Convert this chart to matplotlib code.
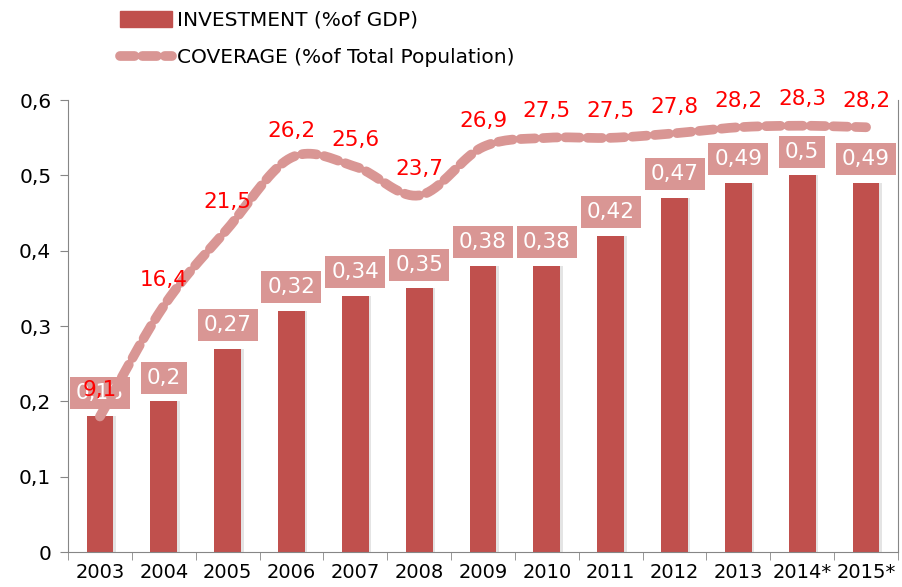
import matplotlib
matplotlib.use("Agg")
import matplotlib.pyplot as plt
import numpy as np
from matplotlib.lines import Line2D
from matplotlib.patches import Patch

years = ["2003", "2004", "2005", "2006", "2007", "2008", "2009", "2010",
         "2011", "2012", "2013", "2014*", "2015*"]
investment = [0.18, 0.2, 0.27, 0.32, 0.34, 0.35, 0.38, 0.38, 0.42, 0.47, 0.49, 0.5, 0.49]
coverage = [9.1, 16.4, 21.5, 26.2, 25.6, 23.7, 26.9, 27.5, 27.5, 27.8, 28.2, 28.3, 28.2]

bar_col = "#C0504D"
line_col = "#D99694"
axis_col = "#868686"
fam = ["DejaVu Sans"]


def smooth(xs, ys, n=20):
    # catmull-rom like excel smoothed line
    px = np.concatenate([[2 * xs[0] - xs[1]], xs, [2 * xs[-1] - xs[-2]]])
    py = np.concatenate([[2 * ys[0] - ys[1]], ys, [2 * ys[-1] - ys[-2]]])
    ox, oy = [], []
    for i in range(1, len(px) - 2):
        t = np.linspace(0, 1, n, endpoint=False)
        for arr, out in ((px, ox), (py, oy)):
            p0, p1, p2, p3 = arr[i - 1], arr[i], arr[i + 1], arr[i + 2]
            out.extend(0.5 * (2 * p1 + (-p0 + p2) * t + (2 * p0 - 5 * p1 + 4 * p2 - p3) * t ** 2
                              + (-p0 + 3 * p1 - 3 * p2 + p3) * t ** 3))
    ox.append(xs[-1]); oy.append(ys[-1])
    return np.array(ox), np.array(oy)


fig = plt.figure(figsize=(9.03, 5.87), dpi=100)
ax = fig.add_axes([68 / 903, 1 - 552 / 587, 830 / 903, 452 / 587])
x = np.arange(len(years))

ax.bar(x + 0.04, investment, width=0.42, color="#888888", alpha=0.22, zorder=1)
ax.bar(x, investment, width=0.42, color=bar_col, zorder=2)

ax.set_xlim(-0.5, len(years) - 0.5)
ax.set_ylim(0, 0.6)
ax.set_yticks(np.arange(0, 0.61, 0.1))
ax.set_yticklabels(["0", "0,1", "0,2", "0,3", "0,4", "0,5", "0,6"], fontsize=14.5, family=fam)
ax.set_xticks(x)
ax.set_xticklabels(years, fontsize=14, family=fam)
ax.set_xticks(np.arange(-0.5, len(years), 1), minor=True)
ax.tick_params(axis="x", which="major", length=0, pad=8)
ax.tick_params(axis="x", which="minor", length=6, color=axis_col)
ax.tick_params(axis="y", length=6, color=axis_col, pad=6)
ax.spines["top"].set_visible(False)
for s in ["left", "bottom", "right"]:
    ax.spines[s].set_color(axis_col)

for xi, v in zip(x, investment):
    ax.annotate(f"{v:g}".replace(".", ","), (xi, v), xytext=(0, 17), textcoords="offset points",
                ha="center", va="center", color="white", fontsize=15.5, family=fam, zorder=5,
                bbox=dict(boxstyle="square,pad=0.28", fc=line_col, ec="none"))

ax2 = ax.twinx()
ax2.set_ylim(0.15, 30.0)
ax2.set_yticks([])
for s in ax2.spines.values():
    s.set_visible(False)
sx, sy = smooth(x.astype(float), np.array(coverage))
ax2.plot(sx, sy, color=line_col, lw=7, linestyle=(0, (1.5, 0.8)), dash_capstyle="round",
         solid_capstyle="round", zorder=4)
for xi, v in zip(x, coverage):
    ax2.annotate(f"{v:g}".replace(".", ","), (xi, v), xytext=(0, 19), textcoords="offset points",
                 ha="center", va="center", color="red", fontsize=15.5, family=fam, zorder=6)

handles = [Patch(color=bar_col),
           Line2D([0], [0], color=line_col, lw=7, linestyle=(0, (1.5, 0.8)), dash_capstyle="round")]
fig.legend(handles, ["INVESTMENT (%of GDP)", "COVERAGE (%of Total Population)"],
           loc="upper left", bbox_to_anchor=(120 / 903, 1 - 11 / 587), frameon=False,
           borderpad=0, borderaxespad=0,
           prop=dict(family=fam, size=14.5), handlelength=2.6, handletextpad=0.25,
           labelspacing=0.9, handleheight=0.8)

fig.savefig("out.png", dpi=100)
